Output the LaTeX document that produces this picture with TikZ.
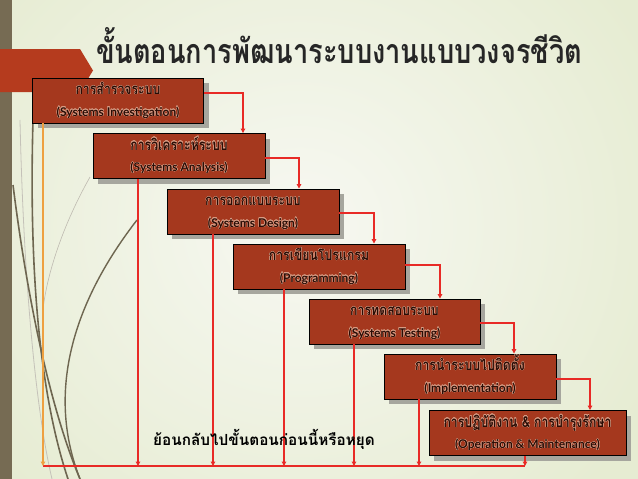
\documentclass[tikz,border=0pt]{standalone}
\usepackage{fontspec}
\usepackage[copies]{contour}
\setmainfont{Lato}
\newfontfamily\thai[Script=Thai]{Loma}
\newfontfamily\eng{Lato}
\usetikzlibrary{arrows.meta,calc}
\definecolor{bgout}{HTML}{E6ECD2}
\definecolor{bgin}{HTML}{F7F8F2}
\definecolor{stripe}{HTML}{766B53}
\definecolor{banner}{HTML}{B53B1E}
\definecolor{boxfill}{HTML}{A5381E}
\definecolor{boxtext}{HTML}{2A0C05}
\definecolor{glow}{HTML}{D89C84}
\definecolor{shadow}{HTML}{A6A69E}
\definecolor{lred}{HTML}{E82A26}
\definecolor{lorange}{HTML}{EEA040}
\definecolor{curve}{HTML}{6E6650}
\definecolor{titlec}{HTML}{262626}
\contourlength{0.25pt}
\tikzset{
  stagebox/.style={draw=black, line width=0.9pt, fill=boxfill, minimum width=171pt, minimum height=45pt, inner sep=0pt},
  shadowbox/.style={fill=shadow},
  thailine/.style={anchor=base, text=boxtext, font=\thai\bfseries\fontsize{15}{17}\selectfont, inner sep=0pt},
  engline/.style={anchor=base, text=boxtext, font=\eng\bfseries\fontsize{12}{14}\selectfont, inner sep=0pt},
  flow/.style={draw=lred, line width=1.3pt, -{Triangle[length=4.5pt,width=4.5pt]}},
  flowline/.style={draw=lred, line width=1.3pt},
  backflow/.style={draw=lorange, line width=1.3pt, -{Triangle[length=4.5pt,width=4.5pt]}},
  deco/.style={draw=curve, line width=1.6pt},
}
\newcommand{\stage}[6]{% name, cx, cy, width, thai, eng
  \fill[shadowbox] (#2-#4/2+5,#3-22.5+5) rectangle (#2+#4/2+5,#3+22.5+5);
  \node[stagebox, minimum width=#4pt] (#1) at (#2,#3) {};
  \node[thailine] (#1t) at ($(#1.north)+(0,17)$) {\scalebox{0.82}[1]{\contour{glow}{#5}}};
  \node[engline] (#1e) at ($(#1.north)+(0,38.5)$) {\contour{glow}{#6}};
}
\begin{document}
\begin{tikzpicture}[x=1pt,y=-1pt]
\useasboundingbox (0,0) rectangle (638,479);
% background
\fill[bgout] (0,0) rectangle (638,479);
\shade[inner color=bgin, outer color=bgout] (-100,-150) rectangle (700,600);
\fill[stripe] (0,0) rectangle (12,479);
% decorative curves
\draw[curve!40, line width=0.8pt] (20,120) .. controls (24,300) and (38,420) .. (52,479);
\draw[curve!45, line width=0.6pt] (90,177) .. controls (60,230) and (46,280) .. (43,310);
\draw[deco] (33,120) .. controls (28,300) and (45,410) .. (68,479);
\draw[deco] (13,185) .. controls (30,320) and (55,420) .. (80,479);
\draw[deco, line width=1.4pt] (137,220) .. controls (75,300) and (45,390) .. (80,479);
% banner
\fill[banner] (0,49) -- (80,49) -- (93,70.5) -- (80,92) -- (0,92) -- cycle;
% title
\node[text=titlec, inner sep=0pt] (title) at (339,46) {\scalebox{0.8}[1]{\thai\bfseries\fontsize{34}{40}\selectfont ขั้นตอนการพัฒนาระบบงานแบบวงจรชีวิต}};
% stages
\stage{b1}{118}{100.5}{171}{การสำรวจระบบ}{(Systems Investigation)}
\stage{b2}{179}{156}{172}{การวิเคราะห์ระบบ}{(Systems Analysis)}
\stage{b3}{253}{211.5}{172}{การออกแบบระบบ}{(Systems Design)}
\stage{b4}{319}{266.5}{172}{การเขียนโปรแกรม}{(Programming)}
\stage{b5}{394.5}{321.5}{171}{การทดสอบระบบ}{(Systems Testing)}
\stage{b6}{470}{376.5}{172}{การนำระบบไปติดตั้ง}{(Implementation)}
\stage{b7}{527.5}{433}{197}{การปฏิบัติงาน \& การบำรุงรักษา}{(Operation \& Maintenance)}
% forward connectors
\coordinate (k1) at (243,93);
\coordinate (k2) at (299,158);
\coordinate (k3) at (374,213);
\coordinate (k4) at (440,265);
\coordinate (k5) at (514,323);
\coordinate (k6) at (590,379);
\draw[flow] (b1.east |- k1) -| (b2.north -| k1);
\draw[flow] (b2.east |- k2) -| (b3.north -| k2);
\draw[flow] (b3.east |- k3) -| (b4.north -| k3);
\draw[flow] (b4.east |- k4) -| (b5.north -| k4);
\draw[flow] (b5.east |- k5) -| (b6.north -| k5);
\draw[flow] (b6.east |- k6) -| (b7.north -| k6);
% feedback
\coordinate (d1) at (43,466);
\coordinate (d2) at (138,466);
\coordinate (d3) at (213,466);
\coordinate (d4) at (284,466);
\coordinate (d5) at (354,466);
\coordinate (d6) at (419,466);
\coordinate (d7) at (525,466);
\draw[flowline] (d1) -- (d7);
\draw[backflow] (b1.south -| d1) -- (d1);
\draw[flow] (b2.south -| d2) -- (d2);
\draw[flow] (b3.south -| d3) -- (d3);
\draw[flow] (b4.south -| d4) -- (d4);
\draw[flow] (b5.south -| d5) -- (d5);
\draw[flow] (b6.south -| d6) -- (d6);
\draw[flow] (b7.south -| d7) -- (d7);
% back label
\node[anchor=base, text=black, inner sep=0pt] (back) at (264,445) {\thai\bfseries\fontsize{15.3}{17}\selectfont ย้อนกลับไปขั้นตอนก่อนนี้หรือหยุด};
\end{tikzpicture}
\end{document}
